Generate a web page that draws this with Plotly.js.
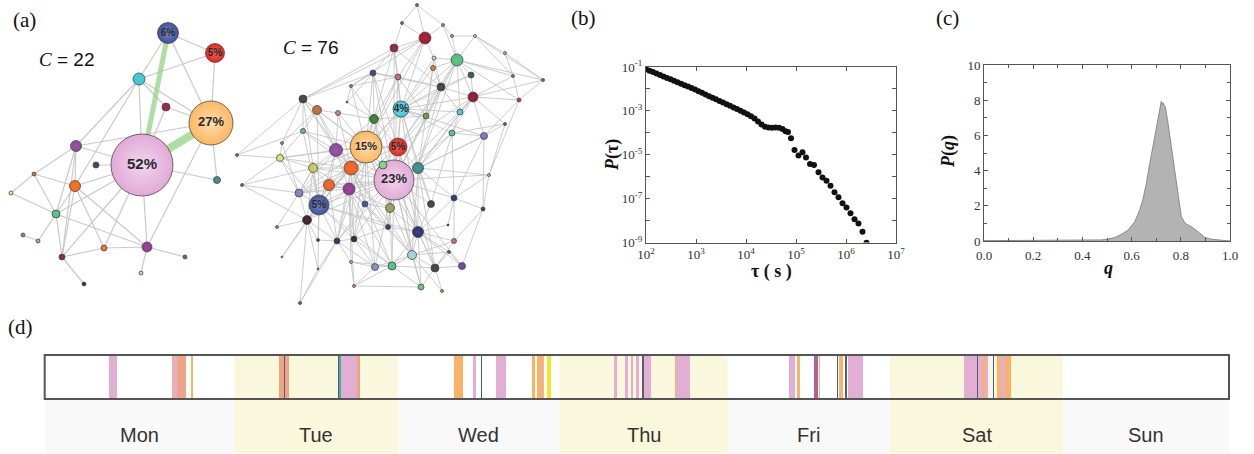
<!DOCTYPE html>
<html><head><meta charset="utf-8">
<script src="https://cdn.plot.ly/plotly-3.0.1.min.js"></script>
<style>html,body{margin:0;padding:0;background:#fff}#chart{width:1254px;height:454px}</style>
</head><body><div id="chart"></div>
<script>
// ================= DATA =================
// (a) left network, C = 22 : layout positions, sizes, colours, labels
const leftX = [168,215,139,166,211,142,76,96,34,75,217,11,56,23,38,62,104,147,185,141,84];
const leftY = [33,53,79,107,123,165,146,165,174,186,180,193,214,235,241,257,248,247,257,273,284];
const leftSize = [21,19,12,8,44,62,11,6,4,11,7,4,8,4,4,6,6,10,4,4,4];
const leftColor = ['#3f519c','#e2261a','#3ec4d4','#a0203a','#fdb862','#e2aad8','#8a4a9a','#3a3a6a','#c07040','#f26a1a','#3a8a8a','#e4e488','#50c080','#8a8a60','#70c070','#8a2030','#f07020','#8e3a90','#308040','#a8d4e4','#402020'];
const leftLabel = ['6%','5%','','','27%','52%','','','','','','','','','','','','','','',''];
const leftEdges = [[0,1],[0,2],[0,4],[1,2],[1,4],[2,3],[2,4],[2,5],[2,6],[2,9],[3,4],[3,5],[4,6],[4,10],[4,17],[5,6],[5,7],[5,9],[5,10],[5,12],[5,15],[5,16],[5,17],[6,9],[6,15],[6,12],[6,8],[8,11],[8,9],[8,12],[9,12],[9,15],[9,16],[9,17],[11,12],[12,14],[12,15],[12,17],[13,14],[15,20],[15,16],[16,17],[17,18],[17,19]];
const leftStrongEdges = [[0,5],[4,5]];

// (a) right network, C = 76
const rightX = [401,366,398,394,319,417,402,443,425,452,475,394,457,434,505,373,398,433,471,513,543,441,351,473,519,303,317,338,347,374,426,460,505,452,484,303,282,237,336,280,313,351,383,418,489,242,329,349,299,365,390,431,454,483,307,277,388,418,448,318,337,354,454,412,449,282,351,318,375,392,435,462,354,421,442,300];
const rightY = [109,147,147,180,205,5,23,25,38,36,36,48,60,58,53,73,77,68,75,76,80,87,86,97,100,99,110,113,102,119,116,112,124,133,136,131,143,155,150,158,168,168,165,168,175,185,185,189,193,204,208,204,198,209,220,227,227,232,225,240,241,239,241,255,252,257,262,269,267,266,268,266,286,287,291,303];
const rightSize = [16,32,18,40,20,3,3,3,12,3,3,8,12,4,3,6,6,5,6,3,3,8,3,10,4,8,9,5,2,9,6,6,3,6,7,5,3,3,13,7,9,14,8,11,3,3,11,12,8,6,9,7,6,4,9,3,5,11,2,3,6,6,5,9,3,2,3,2,7,8,8,7,3,6,3,3];
const rightColor = ['#3ec8d8','#fdb862','#e2261a','#e2aad8','#3f519c','#8a6a50','#4a70c0','#9a80b0','#a01830','#b09070','#d0d0b0','#902040','#50c080','#a0d8e8','#d0a0d0','#404090','#c06080','#f07020','#306030','#907050','#8a5a3a','#404040','#50a060','#901830','#e02020','#404040','#c06838','#c08090','#906040','#308030','#6a9a40','#40c8d8','#705040','#50c080','#8070c0','#70b080','#8090b0','#8a6a40','#8e4a9e','#e0e080','#c8c860','#f06020','#80d080','#3a8a8a','#c0c080','#8a6a40','#f06020','#8e3a90','#8080c0','#4050a0','#9a9a60','#404040','#303070','#303070','#402020','#a08070','#303060','#303070','#101010','#503040','#303060','#302030','#c060a0','#a0d0d8','#405070','#70b070','#e0a0c0','#605060','#8090c0','#50c080','#404040','#7040a0','#f08030','#70c070','#f08030','#c02080'];
const rightLabel = ['4%','15%','5%','23%','5%'];
const rightLinks = [
 [3,[0,1,2,4,11,12,15,16,21,23,29,30,33,34,38,40,41,42,43,44,46,47,48,49,50,51,52,54,56,57,60,61,63,68,69,70,71,73]],
 [1,[0,2,4,8,11,15,16,22,25,26,27,29,35,38,39,40,41,42,46,47,48,49,50,54,57,60,61,63,68]],
 [0,[2,8,11,12,13,16,17,18,21,23,30,31,33,34,41,43,47,51,57]],
 [2,[12,15,21,23,29,38,41,43,47,50,57,63,70]],
 [4,[25,26,35,38,39,40,41,46,47,48,54,56,57,59,60,61,65,67,69]],
 [41,[25,26,27,29,35,38,39,40,46,47,48,49,54,56,60,61,63,69]],
 [47,[38,40,46,48,49,50,54,56,60,61,63,66,68,69,72]],
 [38,[25,26,27,29,35,39,40,46,48]],
 [43,[12,21,23,30,31,33,34,44,51,52,57,63,70]],
 [57,[50,51,52,56,58,62,63,64,69,70,71,73]],
 [12,[7,9,10,13,17,18,19,21,23,24,31]],
 [23,[18,19,20,21,24,31,32,33,34]],
 [21,[11,13,15,16,17,18,30,31]],
 [33,[31,32,34,51,52]],[34,[24,32,52,53]],[29,[15,16,22,27,28,30,42]],
 [15,[11,16,22,25,28]],[8,[5,6,7,11,13,16,22,25]],[5,[6,7]],[7,[9]],
 [10,[14,19,20]],[14,[19,20]],[20,[24,12]],[19,[24]],
 [54,[45,48,55,59,60,65,67,75]],[48,[36,39,40,45,55]],[60,[59,61,66,67,68,75]],
 [63,[56,62,64,68,69,70,73,74]],[70,[62,64,69,71,73,74]],[69,[66,68,72,73]],
 [68,[61,66,72]],[52,[44,53,58,62]],[53,[62,71,44]],[71,[64]],
 [25,[26,35,36,37,11]],[37,[39,35]],[45,[40,39]],[36,[39,26]],[72,[66,73]],
 [75,[67]],[44,[32,24]],[26,[27,35]],[39,[40,35]],[30,[16,17,13]],[22,[16,28]],
 [11,[6,16]],[42,[50,56,30]],[50,[56,49,69]],[46,[40,54,60,48]],[49,[56,61,60]],
 [61,[56,69]],[40,[54,48]],[9,[10]],[13,[17]]
];

// (b) inter-event time distribution (log10 values)
const logTau = [2.00,2.07,2.14,2.21,2.28,2.35,2.42,2.49,2.56,2.63,2.70,2.77,2.84,2.91,2.98,3.05,3.12,3.19,3.26,3.33,3.40,3.47,3.54,3.61,3.68,3.75,3.82,3.89,3.96,4.03,4.10,4.17,4.24,4.31,4.38,4.45,4.52,4.59,4.66,4.73,4.79,4.84,4.90,4.97,5.05,5.13,5.20,5.28,5.36,5.45,5.53,5.61,5.69,5.77,5.85,5.93,6.01,6.09,6.17,6.25,6.33,6.41];
const logP   = [-1.10,-1.17,-1.23,-1.30,-1.36,-1.43,-1.50,-1.56,-1.63,-1.70,-1.76,-1.83,-1.89,-1.96,-2.03,-2.10,-2.17,-2.25,-2.33,-2.40,-2.47,-2.55,-2.62,-2.70,-2.77,-2.85,-2.92,-3.00,-3.07,-3.15,-3.24,-3.35,-3.48,-3.62,-3.72,-3.76,-3.77,-3.76,-3.77,-3.83,-3.93,-3.96,-4.25,-4.78,-5.03,-4.89,-5.13,-5.42,-5.47,-5.80,-6.04,-6.18,-6.41,-6.71,-6.94,-7.21,-7.41,-7.67,-7.94,-8.13,-8.51,-9.01];
const tauTicks = [1e2,1e3,1e4,1e5,1e6,1e7];
const tauTickText = ['10<sup>2</sup>','10<sup>3</sup>','10<sup>4</sup>','10<sup>5</sup>','10<sup>6</sup>','10<sup>7</sup>'];
const pTicks = [1e-9,1e-7,1e-5,1e-3,1e-1];
const pTickText = ['10<sup>-9</sup>','10<sup>-7</sup>','10<sup>-5</sup>','10<sup>-3</sup>','10<sup>-1</sup>'];
const pMinorTicks = [1e-8,1e-6,1e-4,1e-2];

// (c) distribution of q
const qVals = [0.00,0.10,0.20,0.30,0.40,0.45,0.478,0.50,0.532,0.559,0.586,0.613,0.633,0.647,0.660,0.674,0.687,0.701,0.712,0.716,0.721,0.725,0.728,0.733,0.737,0.748,0.762,0.775,0.789,0.802,0.818,0.843,0.870,0.897,0.924,0.965,1.00];
const pqVals = [0.02,0.02,0.03,0.03,0.03,0.04,0.06,0.10,0.20,0.38,0.62,1.10,1.76,2.42,3.27,4.41,5.36,6.49,7.25,7.70,7.95,7.75,7.85,7.70,7.63,6.69,5.36,4.03,2.52,1.38,1.00,0.81,0.53,0.21,0.10,0.05,0.00];

// (d) one week of activity (hours from Monday 00:00)
const dayNames = ['Mon','Tue','Wed','Thu','Fri','Sat','Sun'];
const dayEdges = [0,26.9,50.1,73.0,96.9,119.9,144.5,168];
const dayShade = ['w','y','w','y','w','y','w'];
const evStart = [9.12,18.0,18.16,18.72,20.8,33.28,33.95,41.6,41.8,42.1,44.3,58.06,60.7,61.85,63.98,69.08,69.84,70.7,71.21,80.76,82.32,83.1,83.9,84.8,85.0,89.4,89.56,105.63,106.67,109.17,109.84,112.35,112.72,113.52,114.0,130.45,132.3,132.45,132.98,133.4,134.57,135.05,135.65,136.22];
const evEnd   = [10.21,18.16,18.72,20.04,21.08,34.70,34.12,41.8,42.1,44.3,44.7,59.38,61.2,62.05,65.44,69.55,70.64,70.85,71.78,81.14,82.79,83.5,84.35,84.95,85.96,89.6,91.55,106.43,107.14,109.74,110.0,112.58,113.28,113.77,116.04,132.21,132.45,132.98,133.4,133.87,134.72,135.65,136.22,137.03];
const evType  = ['pink','orange','pink','salmon','orange','salmon','dark','dark','teal','pink','salmon','orange','pink','blue','pink','orange','orange','pink','yellow','pink','pink','pink','pink','dark','pink','orange','pink','pink','orange','mauve','orange','blue','orange','dark','pink','pink','dark','pink','orange','pink','blue','orange','pink','orange'];

// ================= STYLE / BUILD =================
const W = 1254, H = 454;
const fx = p => p / W, fy = p => 1 - p / H;
const evColors = {pink:'#e3aed3',orange:'#f9b367',salmon:'#eea585',dark:'#5a5a78',blue:'#3c5aa0',teal:'#40b0a0',green:'#4a8a50',yellow:'#f3e62a',mauve:'#b0609a'};
function lighten(hex, t){const n=parseInt(hex.slice(1),16);let r=n>>16,g=(n>>8)&255,b=n&255;
  r=Math.round(r+(255-r)*t);g=Math.round(g+(255-g)*t);b=Math.round(b+(255-b)*t);return `rgb(${r},${g},${b})`;}

function edgeTrace(X,Y,pairs,color,width){
  const ex=[],ey=[];
  pairs.forEach(([a,b])=>{ex.push(X[a],X[b],null);ey.push(Y[a],Y[b],null);});
  return {type:'scatter',mode:'lines',x:ex,y:ey,xaxis:'x',yaxis:'y',line:{color,width},hoverinfo:'skip',showlegend:false};
}
function nodeTrace(X,Y,S,C){
  return {type:'scatter',mode:'markers',x:X,y:Y,xaxis:'x',yaxis:'y',
    marker:{size:S,color:C,opacity:1,line:{color:'#4a4a4a',width:0.8},
      gradient:{type:'radial',color:C.map((c,i)=>lighten(c, S[i]>30?0.5:(S[i]>14?0.3:0.08)))}},
    hoverinfo:'skip',showlegend:false,cliponaxis:false};
}
function labelTrace(X,Y,S,L){
  const idx=L.map((s,i)=>s?i:-1).filter(i=>i>=0);
  return {type:'scatter',mode:'text',x:idx.map(i=>X[i]),y:idx.map(i=>Y[i]),xaxis:'x',yaxis:'y',
    text:idx.map(i=>'<b>'+L[i]+'</b>'),textposition:'middle center',
    textfont:{family:'Liberation Sans, Arial',size:idx.map(i=>S[i]>55?15:(S[i]>38?13:(S[i]>25?11:10))),color:'#2a2a2a'},
    hoverinfo:'skip',showlegend:false,cliponaxis:false};
}
const rightPairs=[];rightLinks.forEach(([a,list])=>list.forEach(b=>rightPairs.push([a,b])));

const traces = [
  edgeTrace(rightX,rightY,rightPairs,'rgba(195,195,195,0.85)',1),
  edgeTrace(leftX,leftY,leftEdges,'#c9c9c9',1.2),
  edgeTrace(leftX,leftY,[leftStrongEdges[0]],'rgba(150,210,130,0.75)',5),
  edgeTrace(leftX,leftY,[leftStrongEdges[1]],'rgba(150,210,130,0.75)',8),
  nodeTrace(leftX,leftY,leftSize,leftColor),
  nodeTrace(rightX,rightY,rightSize,rightColor),
  labelTrace(leftX,leftY,leftSize,leftLabel),
  labelTrace(rightX,rightY,rightSize,rightLabel)
];
// (b)
traces.push({type:'scatter',mode:'markers',x:logTau.map(v=>Math.pow(10,v)),y:logP.map(v=>Math.pow(10,v)),
  xaxis:'x2',yaxis:'y2',marker:{size:6,color:'#111'},showlegend:false,hoverinfo:'skip'});
// (c)
traces.push({type:'scatter',mode:'lines',x:qVals,y:pqVals,fill:'tozeroy',fillcolor:'#b3b3b3',
  line:{color:'#8a8a8a',width:1},xaxis:'x3',yaxis:'y3',showlegend:false,hoverinfo:'skip'});
// (d)
traces.push({type:'bar',x:evStart.map((s,i)=>(s+evEnd[i])/2),width:evStart.map((s,i)=>evEnd[i]-s),
  y:evStart.map(()=>1),base:0,marker:{color:evType.map(t=>evColors[t]),line:{width:0}},
  xaxis:'x4',yaxis:'y4',showlegend:false,hoverinfo:'skip'});

const serif = 'Liberation Serif, Times New Roman, serif';
const tickF = {family:serif,size:13,color:'#333'};
const shapes=[], annotations=[];
dayNames.forEach((d,i)=>{
  const yellow = dayShade[i]==='y';
  shapes.push({type:'rect',xref:'x4',yref:'paper',x0:dayEdges[i],x1:dayEdges[i+1],y0:fy(453),y1:fy(399),
    fillcolor:yellow?'#faf8dc':'#f9f9f9',line:{width:0},layer:'below'});
  shapes.push({type:'rect',xref:'x4',yref:'y4 domain',x0:dayEdges[i],x1:dayEdges[i+1],y0:0,y1:1,
    fillcolor:yellow?'#faf8dc':'#ffffff',line:{width:0},layer:'below'});
  annotations.push({xref:'x4',yref:'paper',x:(dayEdges[i]+dayEdges[i+1])/2,y:fy(435),text:d,showarrow:false,
    xanchor:'center',yanchor:'middle',font:{family:'Liberation Sans, Arial',size:20,color:'#333'}});
});
shapes.push({type:'rect',xref:'x4 domain',yref:'y4 domain',x0:0,x1:1,y0:0,y1:1,line:{color:'#555',width:2},layer:'above'});

const lab=(t,x,y,sz,extra)=>Object.assign({xref:'paper',yref:'paper',x:fx(x),y:fy(y),text:t,showarrow:false,
  xanchor:'center',yanchor:'middle',font:{family:serif,size:sz,color:'#111'}},extra||{});
annotations.push(lab('(a)',24,20,21),lab('(b)',583,18,21),lab('(c)',948,18,21),lab('(d)',20,327,21));
annotations.push(lab('<span style="font-family:Liberation Serif"><i>C</i></span> = 22',66,59,19,{font:{family:'Liberation Sans, Arial',size:19,color:'#111'}}));
annotations.push(lab('<span style="font-family:Liberation Serif"><i>C</i></span> = 76',310,47,19,{font:{family:'Liberation Sans, Arial',size:19,color:'#111'}}));
annotations.push(lab('<b><i>P</i>(τ)</b>',612,155,18,{textangle:-90}));
annotations.push(lab('<b>τ ( s )</b>',771,271,18));
annotations.push(lab('<b><i>P</i>(<i>q</i>)</b>',949,152,18,{textangle:-90}));
annotations.push(lab('<b><i>q</i></b>',1108,268,18));

const hidden={visible:false,showgrid:false,zeroline:false,fixedrange:true,showticklabels:false};
const frame={showline:true,mirror:'ticks',linecolor:'#555',linewidth:1,ticks:'inside',tickcolor:'#555',
  showgrid:false,zeroline:false,tickfont:tickF,fixedrange:true};
const layout={
  width:W,height:H,margin:{l:0,r:0,t:0,b:0},paper_bgcolor:'#fff',plot_bgcolor:'rgba(0,0,0,0)',
  showlegend:false,
  xaxis:Object.assign({domain:[0,560/W],range:[0,560]},hidden),
  yaxis:Object.assign({domain:[fy(310),1],range:[310,0]},hidden),
  xaxis2:Object.assign({},frame,{domain:[fx(646),fx(896)],type:'log',range:[2,7],anchor:'y2',ticklen:4,
    tickvals:tauTicks,ticktext:tauTickText}),
  yaxis2:Object.assign({},frame,{domain:[fy(242.5),fy(67)],type:'log',range:[-9,-1],anchor:'x2',ticklen:4,
    tickvals:pTicks,ticktext:pTickText,minor:{ticks:'inside',tickvals:pMinorTicks,ticklen:4,tickcolor:'#555'}}),
  xaxis3:Object.assign({},frame,{domain:[fx(984),fx(1230)],range:[0,1],anchor:'y3',dtick:0.2,tick0:0,tickformat:'.1f',ticklen:4,
    ticklabelstandoff:2,minor:{ticks:'inside',dtick:0.1,ticklen:3,tickcolor:'#555'}}),
  yaxis3:Object.assign({},frame,{domain:[fy(241),fy(65)],range:[0,10],anchor:'x3',dtick:2,ticklen:4,
    minor:{ticks:'inside',dtick:1,ticklen:3,tickcolor:'#555'}}),
  xaxis4:Object.assign({domain:[fx(44.7),fx(1229)],range:[0,168],anchor:'y4'},hidden),
  yaxis4:Object.assign({domain:[fy(399),fy(355)],range:[0,1],anchor:'x4'},hidden),
  bargap:0,shapes,annotations
};
Plotly.newPlot('chart',traces,layout,{staticPlot:true,displayModeBar:false});
</script></body></html>
